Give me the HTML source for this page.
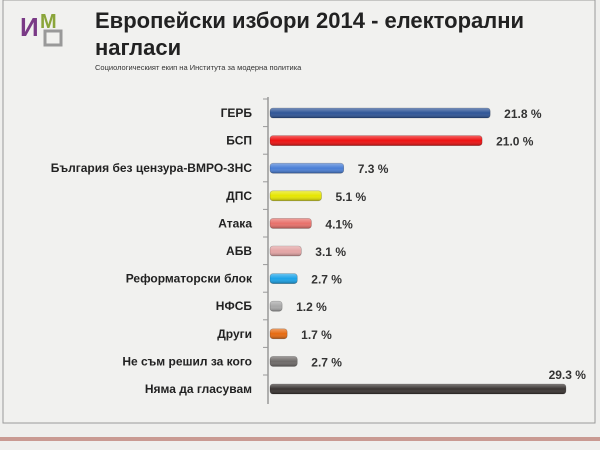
<!DOCTYPE html>
<html><head><meta charset="utf-8"><style>
body{margin:0;width:600px;height:445px;background:#efefed;overflow:hidden;font-family:"Liberation Sans","DejaVu Sans",sans-serif}
</style></head><body>
<svg width="600" height="445" xmlns="http://www.w3.org/2000/svg">
<defs>
<linearGradient id="sh" x1="0" y1="0" x2="0" y2="1"><stop offset="0" stop-color="#fff" stop-opacity=".35"/><stop offset=".5" stop-color="#fff" stop-opacity="0"/><stop offset="1" stop-color="#000" stop-opacity=".3"/></linearGradient>
</defs>
<rect x="3" y="0" width="592" height="423" fill="#f1f1ef" stroke="#9a9a9a"/>
<rect x="0" y="437" width="600" height="4" fill="#c99a92"/>
<g>
<text x="20" y="36" font-size="26" font-weight="bold" fill="#7a3a86">И</text>
<text x="40" y="28" font-size="20" font-weight="bold" fill="#8aa53a">М</text>
<rect x="45" y="31" width="16" height="14" fill="none" stroke="#999" stroke-width="3"/>
</g>
<text x="95" y="28" font-size="22" font-weight="bold" fill="#222">Европейски избори 2014 - електорални</text>
<text x="95" y="55" font-size="22" font-weight="bold" fill="#222">нагласи</text>
<text x="95" y="70" font-size="7.5" fill="#333">Социологическият екип на Института за модерна политика</text>
<line x1="268" y1="97" x2="268" y2="404" stroke="#999" stroke-width="1.5"/>
<g id="bars"></g>
</svg>
<script>
const categories=["ГЕРБ","БСП","България без цензура-ВМРО-ЗНС","ДПС","Атака","АБВ","Реформаторски блок","НФСБ","Други","Не съм решил за кого","Няма да гласувам"];
const values=[21.8,21.0,7.3,5.1,4.1,3.1,2.7,1.2,1.7,2.7,29.3];
const valueLabels=["21.8 %","21.0 %","7.3 %","5.1 %","4.1%","3.1 %","2.7 %","1.2 %","1.7 %","2.7 %","29.3 %"];
const colors=["#2f5597","#ee1111","#4a7fd6","#e6e600","#e8706a","#e4a4a4","#1aa3e8","#a8a8a8","#e66a10","#6e6a68","#3a3432"];
const NS="http://www.w3.org/2000/svg";
const x0=270, scale=10.1, y0=113, step=27.6, bh=10;
const xs=v=>x0+v*scale, ys=i=>y0+i*step;
const g=document.getElementById('bars');
function mk(t,a){const e=document.createElementNS(NS,t);for(const k in a)e.setAttribute(k,a[k]);g.appendChild(e);return e;}
categories.forEach((c,i)=>{
  const y=ys(i);
  const tk=mk('line',{x1:263,y1:y-14,x2:268,y2:y-14,stroke:'#999'});
  
  
  const lb=mk('text',{x:252,y:y+4,'font-size':12,'font-weight':'bold','text-anchor':'end',fill:'#222'});
  lb.textContent=c;
  
  
  const w=xs(values[i])-x0;
  const b=mk('rect',{x:x0,y:y-bh/2,width:w,height:bh,rx:3,fill:colors[i],stroke:'rgba(0,0,0,.3)','stroke-width':0.6});
  
  
  const s=mk('rect',{x:x0,y:y-bh/2,width:w,height:bh,rx:3,fill:'url(#sh)'});
  
  
  const last=i===categories.length-1;
  const vl=mk('text',{x:last?xs(values[i])+20:xs(values[i])+14,y:last?y-10:y+5,'font-size':12,'font-weight':'bold',fill:'#333','text-anchor':last?'end':'start'});
  vl.textContent=valueLabels[i];
  
  
});
</script>
</body></html>
